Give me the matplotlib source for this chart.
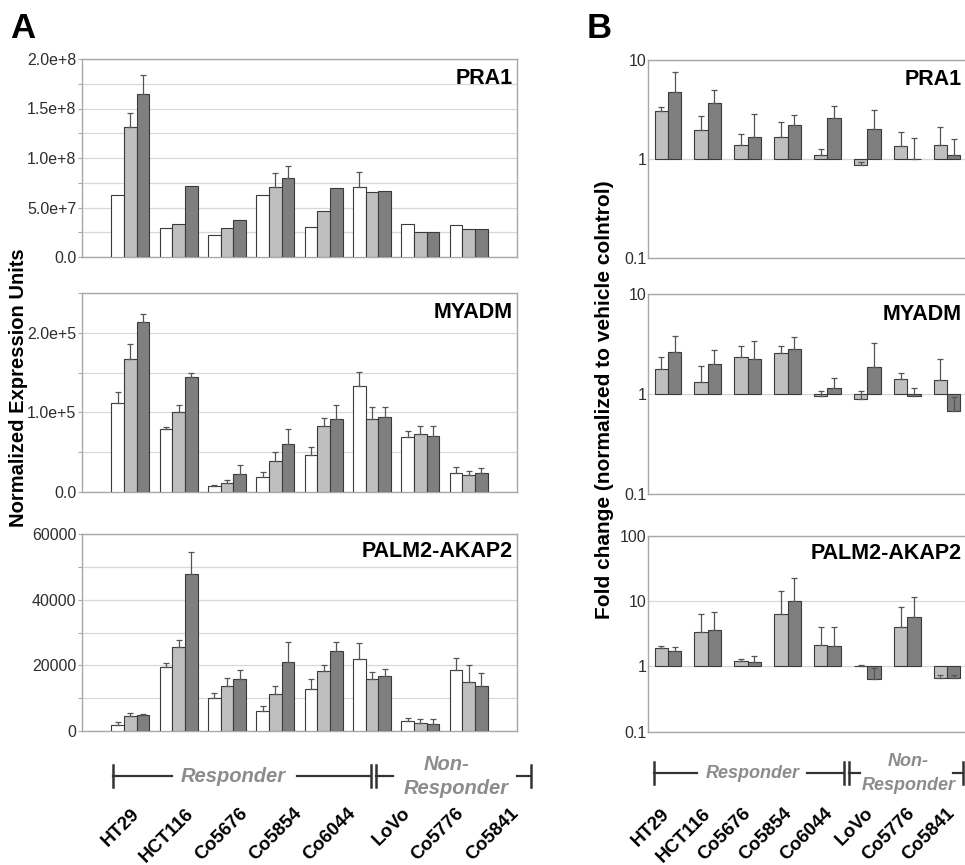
import numpy as np
import matplotlib
matplotlib.use('Agg')
import matplotlib.pyplot as plt
from matplotlib.ticker import FixedLocator, FixedFormatter, MultipleLocator

plt.rcParams['font.family'] = ['Liberation Sans', 'DejaVu Sans']

cell_lines = ['HT29', 'HCT116', 'Co5676', 'Co5854', 'Co6044', 'LoVo', 'Co5776', 'Co5841']
genes = ['PRA1', 'MYADM', 'PALM2-AKAP2']

# panel A: normalized expression (white, light, dark) and error bar tops (0 = none)
pra1_expr = [[6.3e7, 2.9e7, 2.2e7, 6.3e7, 3.06e7, 7.1e7, 3.3e7, 3.23e7],
             [1.31e8, 3.3e7, 2.96e7, 7.04e7, 4.65e7, 6.53e7, 2.5e7, 2.8e7],
             [1.65e8, 7.2e7, 3.74e7, 7.98e7, 6.94e7, 6.7e7, 2.5e7, 2.86e7]]
pra1_err = [[0, 0, 0, 0, 0, 8.6e7, 0, 0],
            [1.45e8, 0, 0, 8.45e7, 0, 0, 0, 0],
            [1.84e8, 0, 0, 9.2e7, 0, 0, 0, 0]]
myadm_expr = [[1.115e5, 0.79e5, 0.075e5, 0.19e5, 0.46e5, 1.337e5, 0.69e5, 0.235e5],
              [1.673e5, 1.0e5, 0.113e5, 0.39e5, 0.834e5, 0.918e5, 0.725e5, 0.214e5],
              [2.13e5, 1.44e5, 0.23e5, 0.6e5, 0.918e5, 0.947e5, 0.708e5, 0.243e5]]
myadm_err = [[1.254e5, 0.82e5, 0.09e5, 0.255e5, 0.56e5, 1.513e5, 0.77e5, 0.31e5],
             [1.86e5, 1.094e5, 0.15e5, 0.5e5, 0.927e5, 1.065e5, 0.834e5, 0.264e5],
             [2.235e5, 1.49e5, 0.34e5, 0.79e5, 1.094e5, 1.065e5, 0.826e5, 0.306e5]]
palm2_expr = [[1900, 19400, 10000, 6200, 12700, 22000, 3000, 18600],
              [4700, 25700, 13700, 11200, 18300, 15800, 2400, 15000],
              [4900, 47900, 15800, 21100, 24500, 16900, 2300, 13800]]
palm2_err = [[2700, 20800, 11500, 7700, 15900, 26700, 4100, 22200],
             [5400, 27600, 16300, 13800, 20100, 18100, 3700, 20100],
             [5200, 54600, 18600, 27000, 27000, 18900, 3600, 17800]]

# panel B: fold change (light, dark) and error bar tops
pra1_fold = [[3.03, 1.94, 1.37, 1.65, 1.09, 0.86, 1.36, 1.39],
             [4.75, 3.65, 1.67, 2.22, 2.61, 2.01, 0.99, 1.1]]
pra1_fold_err = [[3.32, 2.69, 1.79, 2.34, 1.27, 0.93, 1.86, 2.08],
                 [7.5, 5.0, 2.85, 2.8, 3.43, 3.15, 1.63, 1.57]]
myadm_fold = [[1.78, 1.33, 2.33, 2.55, 0.96, 0.89, 1.41, 1.38],
              [2.65, 2.0, 2.24, 2.82, 1.16, 1.85, 0.96, 0.68]]
myadm_fold_err = [[2.33, 1.9, 3.02, 3.04, 1.08, 1.08, 1.62, 2.24],
                  [3.83, 2.75, 3.39, 3.69, 1.46, 3.21, 1.14, 0.94]]
palm2_fold = [[1.91, 3.32, 1.19, 6.4, 2.1, 1.03, 3.96, 0.66],
              [1.74, 3.56, 1.15, 10.0, 2.02, 0.64, 5.7, 0.66]]
palm2_fold_err = [[2.07, 6.4, 1.31, 14.4, 3.96, 1.06, 8.0, 0.75],
                  [1.98, 6.8, 1.44, 22.6, 3.96, 0.95, 11.6, 0.75]]

a_ylims = [2.0e8, 2.5e5, 60000]
a_major = [[0, 5e7, 1e8, 1.5e8, 2e8], [0, 1e5, 2e5], [0, 20000, 40000, 60000]]
a_labels = [['0.0', '5.0e+7', '1.0e+8', '1.5e+8', '2.0e+8'],
            ['0.0', '1.0e+5', '2.0e+5'],
            ['0', '20000', '40000', '60000']]
a_minor = [2.5e7, 0.5e5, 10000]
b_ylims = [(0.1, 10), (0.1, 10), (0.1, 100)]
b_ticks = [[0.1, 1, 10], [0.1, 1, 10], [0.1, 1, 10, 100]]
b_labels = [['0.1', '1', '10'], ['0.1', '1', '10'], ['0.1', '1', '10', '100']]

bar_colors = ['#ffffff', '#bfbfbf', '#7f7f7f']
edge = '#3a3a3a'
grid_c = '#d8d8d8'
spine_c = '#a8a8a8'
tick_c = '#2e2e2e'

W, H = 965, 865
fig = plt.figure(figsize=(9.65, 8.65), dpi=100)


def rect(left, top, right, bottom):
    return [left / W, 1 - bottom / H, (right - left) / W, (bottom - top) / H]


def style(ax):
    for s in ax.spines.values():
        s.set_color(spine_c)
        s.set_linewidth(1.0)
    ax.set_axisbelow(True)
    ax.set_xticks([])
    ax.tick_params(axis='y', which='both', colors=spine_c, labelcolor=tick_c,
                   labelsize=11.5, length=3, width=0.8, pad=1)


def errbars(ax, x, vals, tops):
    vals = np.array(vals, dtype=float)
    tops = np.array(tops, dtype=float)
    m = tops > 0
    ax.errorbar(x[m], vals[m], yerr=[np.zeros(m.sum()), tops[m] - vals[m]],
                fmt='none', ecolor='#555555', elinewidth=0.9, capsize=2,
                capthick=0.9, zorder=4)


# ---- panel A ----
a_rows = [(59, 257), (293, 492), (533.8, 731.2)]
a_data = [(pra1_expr, pra1_err), (myadm_expr, myadm_err), (palm2_expr, palm2_err)]
title_y = [0.9, 0.9, 0.91]
x = np.arange(1, 9)
bw = 0.26
for i, (top, bot) in enumerate(a_rows):
    ax = fig.add_axes(rect(82, top, 517, bot))
    style(ax)
    expr, err = a_data[i]
    for k in range(3):
        ax.bar(x + (k - 1) * bw, expr[k], bw, color=bar_colors[k],
               edgecolor=edge, linewidth=0.8, zorder=3)
        errbars(ax, x + (k - 1) * bw, expr[k], err[k])
    ax.set_xlim(0, 9)
    ax.set_ylim(0, a_ylims[i])
    ax.yaxis.set_major_locator(FixedLocator(a_major[i]))
    ax.yaxis.set_major_formatter(FixedFormatter(a_labels[i]))
    ax.yaxis.set_minor_locator(MultipleLocator(a_minor[i]))
    ax.grid(axis='y', which='both', color=grid_c, linewidth=0.9)
    ax.text(0.99, title_y[i], genes[i], transform=ax.transAxes, ha='right',
            va='center', fontsize=15.5, fontweight='bold')

# ---- panel B ----
b_rows = [(60, 257.7), (294, 494), (535.7, 731.7)]
b_data = [(pra1_fold, pra1_fold_err), (myadm_fold, myadm_fold_err),
          (palm2_fold, palm2_fold_err)]
xb = np.arange(8) + 0.5
bwb = 0.335
for i, (top, bot) in enumerate(b_rows):
    ax = fig.add_axes(rect(648, top, 967, bot))
    style(ax)
    ax.set_yscale('log')
    fold, ferr = b_data[i]
    for k in range(2):
        xs = xb + (k - 0.5) * bwb
        ax.bar(xs, np.array(fold[k]) - 1, bwb, bottom=1, color=bar_colors[k + 1],
               edgecolor=edge, linewidth=0.8, zorder=3)
        errbars(ax, xs, fold[k], ferr[k])
    ax.set_xlim(0, 8)
    ax.set_ylim(*b_ylims[i])
    ax.yaxis.set_major_locator(FixedLocator(b_ticks[i]))
    ax.yaxis.set_major_formatter(FixedFormatter(b_labels[i]))
    ax.yaxis.set_minor_locator(FixedLocator([]))
    ax.tick_params(axis='y', length=0)
    ax.grid(axis='y', which='major', color=grid_c, linewidth=0.9)
    ax.text(0.985, 0.9 if i < 2 else 0.91, genes[i], transform=ax.transAxes,
            ha='right', va='center', fontsize=15.5, fontweight='bold')

# ---- labels, brackets (overlay in pixel coordinates) ----
ov = fig.add_axes([0, 0, 1, 1], facecolor='none')
ov.set_xlim(0, W)
ov.set_ylim(H, 0)
ov.axis('off')

ov.text(10, 28, 'A', fontsize=25, fontweight='bold', va='center', ha='left')
ov.text(587, 28, 'B', fontsize=25, fontweight='bold', va='center', ha='left')
ov.text(19, 388, 'Normalized Expression Units', rotation=90, ha='center',
        va='center', fontsize=14.5, fontweight='bold')
ov.text(605, 400, 'Fold change (normalized to vehicle colntrol)', rotation=90,
        ha='center', va='center', fontsize=15, fontweight='bold')

gray_txt = '#8c8c8c'
lc = '#333333'


def bracket(y, x0, t0, t1, x1, bar_a, bar_b, x2, n_c, t2, x3, r_txt, nr_txt, fs):
    ov.plot([x0, t0], [y, y], color=lc, lw=1.6)
    ov.plot([t1, x1], [y, y], color=lc, lw=1.6)
    ov.plot([bar_b, x2], [y, y], color=lc, lw=1.6)
    ov.plot([t2, x3], [y, y], color=lc, lw=1.6)
    for xx in (x0, bar_a, bar_b, x3):
        ov.plot([xx, xx], [y - 11, y + 11], color=lc, lw=1.8)
    ov.text(r_txt, y, 'Responder', ha='center', va='center', color=gray_txt,
            fontsize=fs, fontweight='bold', style='italic')
    ov.text(n_c, y - 12, 'Non-', ha='center', va='center', color=gray_txt,
            fontsize=fs, fontweight='bold', style='italic')
    ov.text(nr_txt, y + 12, 'Responder', ha='center', va='center', color=gray_txt,
            fontsize=fs, fontweight='bold', style='italic')


bracket(776, 113, 172, 297, 370.5, 370.5, 375.5, 393, 446.7, 516.5, 530.5,
        233, 456.7, 14.5)
bracket(773, 653.5, 697, 806.5, 844, 844, 848.5, 860, 908.3, 953, 963,
        752.5, 908.3, 13)

for j, name in enumerate(cell_lines):
    ov.text(143 + j * 54.1, 805, name, rotation=45, ha='right', va='top',
            fontsize=13.5, fontweight='bold')
    ov.text(673 + j * 40.8, 805, name, rotation=45, ha='right', va='top',
            fontsize=13.5, fontweight='bold')

fig.savefig('out.png', dpi=100)
